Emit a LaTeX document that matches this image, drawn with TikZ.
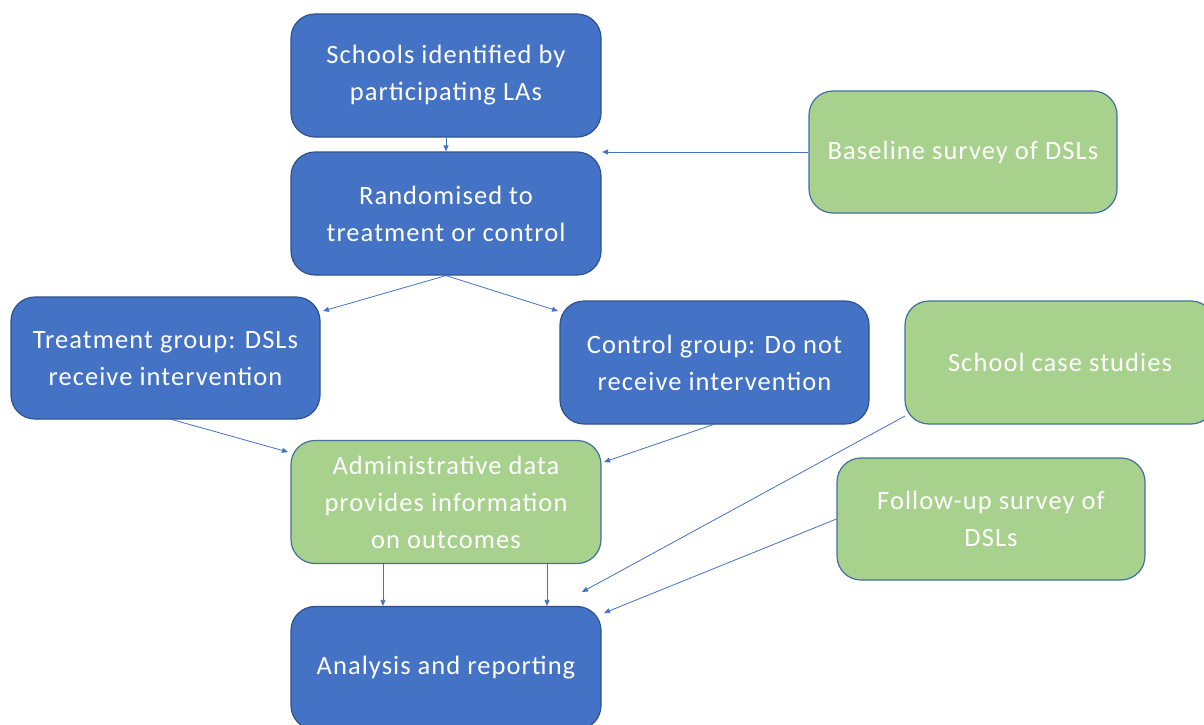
\documentclass[tikz,border=0pt]{standalone}
\usepackage{fontspec}
\setmainfont{Carlito}[LetterSpace=4]
\usetikzlibrary{arrows.meta,calc}
\definecolor{bluefill}{HTML}{4472C4}
\definecolor{blueline}{HTML}{2F528F}
\definecolor{greenfill}{HTML}{A9D18E}
\definecolor{greenline}{HTML}{41719C}
\definecolor{arrowcol}{HTML}{4472C4}
\tikzset{
  box/.style={rectangle, rounded corners=24pt, minimum width=310pt, minimum height=123pt,
    text=white, align=center, inner sep=0pt, line width=1.2pt,
    font=\fontsize{26.5pt}{37pt}\selectfont},
  bluebox/.style={box, fill=bluefill, draw=blueline},
  greenbox/.style={box, fill=greenfill, draw=greenline},
  conn/.style={draw=arrowcol, line width=0.8pt, -{Triangle[length=6pt,width=5pt]}}
}
\begin{document}
\begin{tikzpicture}[x=1pt,y=-1pt]
\clip (0,0) rectangle (1204,725);
\fill[white] (0,0) rectangle (1204,725);
\node[bluebox] (S) at (446,75.5) {Schools identified by\\participating LAs};
\node[bluebox] (R) at (446,213.5) {Randomised to\\treatment or control};
\node[greenbox, minimum width=308pt, minimum height=122pt] (B) at (963,152) {Baseline survey of DSLs};
\node[bluebox, minimum width=309pt, minimum height=122pt] (T) at (165.5,358) {Treatment group: DSLs\\receive intervention};
\node[bluebox, minimum width=309pt] (C) at (714.5,362.5) {Control group: Do not\\receive intervention};
\node[greenbox] (CS) at (1060,362.5) {School case studies};
\node[greenbox] (A) at (446,502) {Administrative data\\provides information\\on outcomes};
\node[greenbox, minimum width=308pt, minimum height=122pt] (F) at (991,519) {Follow-up survey of\\DSLs};
\node[bluebox] (An) at (446,668) {Analysis and reporting};
% free ends
\coordinate (rt) at (323,311);
\coordinate (rc) at (558,311);
\coordinate (ta) at (288,452);
\coordinate (ca) at (604,462);
\coordinate (csA) at (582,592);
\coordinate (fA) at (604,613);
\coordinate (bR) at (602,152);
\coordinate (cs0) at (905,416);
\coordinate (t0) at (170,419);
\coordinate (c0) at (715,424);
% connectors
\draw[conn] (S.south) -- (R.north);
\draw[conn] (B.west) -- (bR);
\draw[conn] (R.south) -- (rt);
\draw[conn] (R.south) -- (rc);
\draw[conn] (t0) -- (ta);
\draw[conn] (c0) -- (ca);
\draw[conn] (cs0) -- (csA);
\draw[conn] (F.west) -- (fA);
\draw[conn] (A.south -| 383,0) -- (An.north -| 383,0);
\draw[conn] (A.south -| 547,0) -- (An.north -| 547,0);
\end{tikzpicture}
\end{document}
